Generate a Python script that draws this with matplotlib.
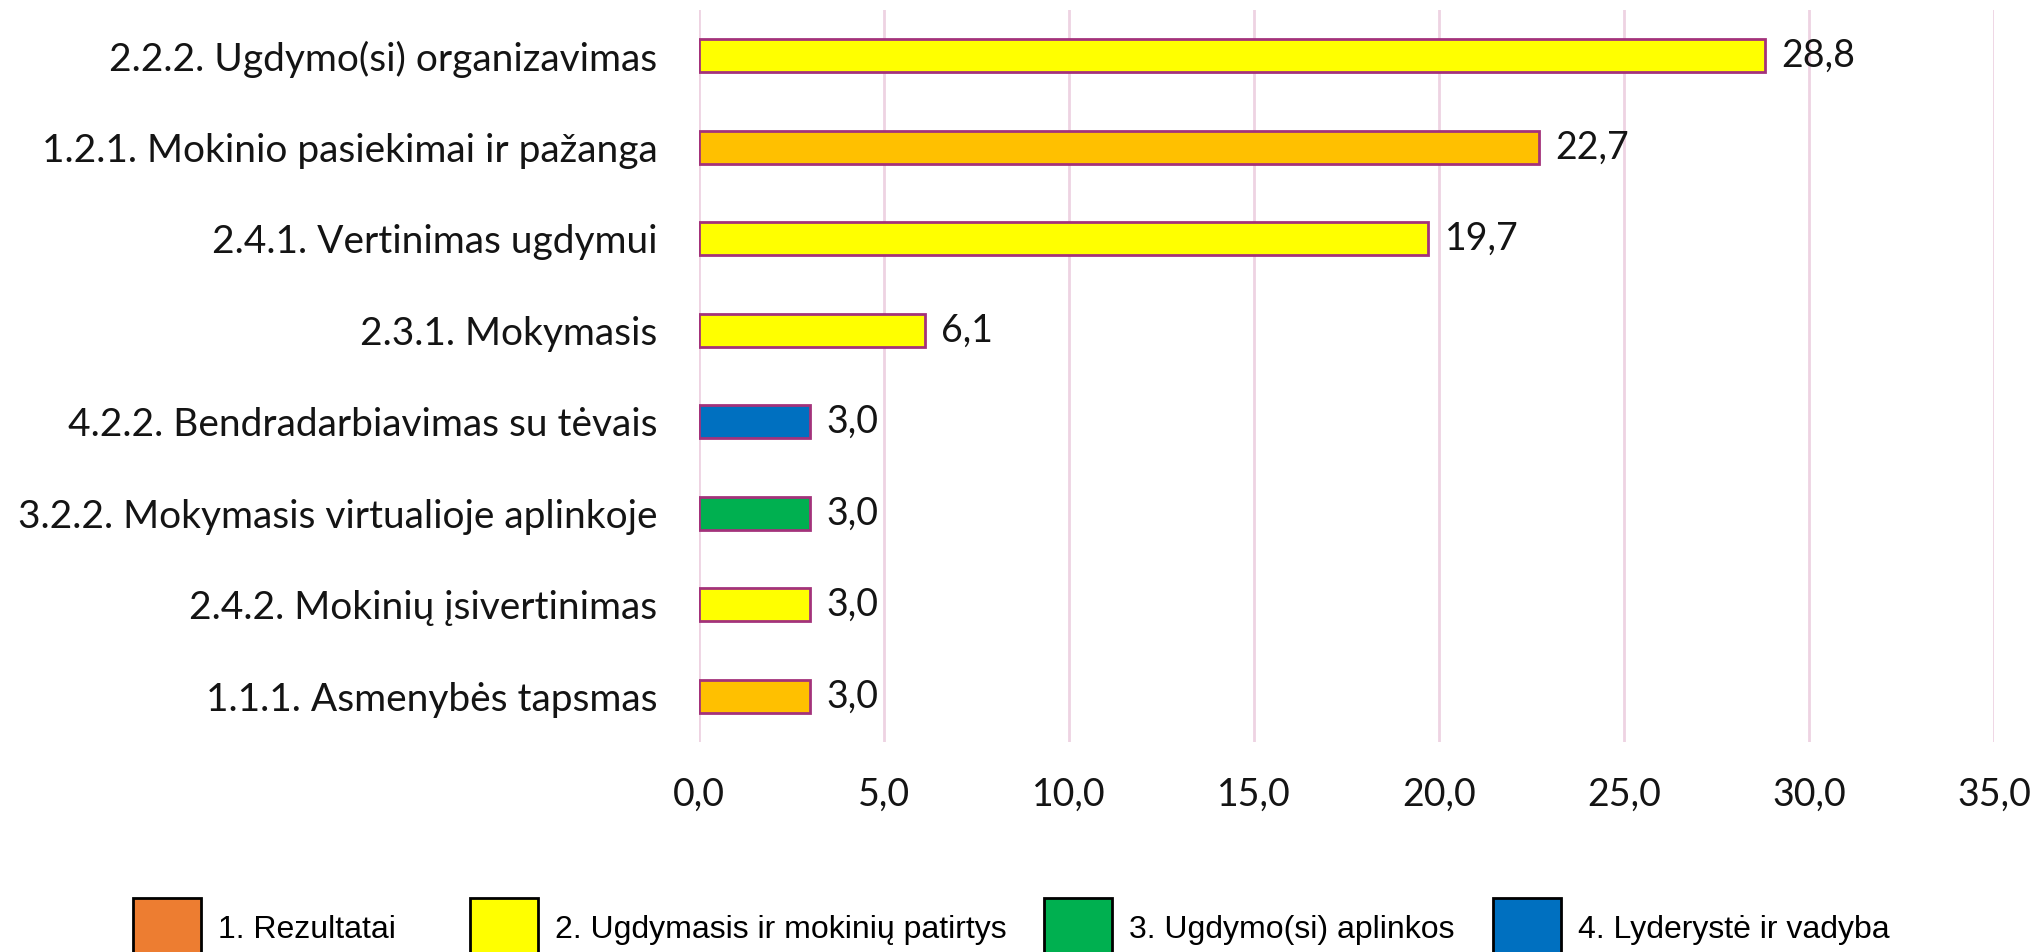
import matplotlib
matplotlib.use("Agg")
import matplotlib.pyplot as plt
from matplotlib.patches import Patch

# data, top to bottom as in the chart
categories = [
    "2.2.2. Ugdymo(si) organizavimas",
    "1.2.1. Mokinio pasiekimai ir pažanga",
    "2.4.1. Vertinimas ugdymui",
    "2.3.1. Mokymasis",
    "4.2.2. Bendradarbiavimas su tėvais",
    "3.2.2. Mokymasis virtualioje aplinkoje",
    "2.4.2. Mokinių įsivertinimas",
    "1.1.1. Asmenybės tapsmas",
]
values = [28.8, 22.7, 19.7, 6.1, 3.0, 3.0, 3.0, 3.0]
bar_colors = ["#FFFF00", "#FFC000", "#FFFF00", "#FFFF00",
              "#0070C0", "#00B050", "#FFFF00", "#FFC000"]
legend_labels = ["1. Rezultatai", "2. Ugdymasis ir mokinių patirtys",
                 "3. Ugdymo(si) aplinkos", "4. Lyderystė ir vadyba"]
legend_colors = ["#ED7D31", "#FFFF00", "#00B050", "#0070C0"]
xticks = [0, 5, 10, 15, 20, 25, 30, 35]

main_font = "Lato"
fs = 28
txt_color = "#141414"

fig = plt.figure(figsize=(20.41, 9.52), dpi=100)
ax = fig.add_axes([0.3425, 0.2206, 0.6345, 0.7689])

ypos = list(range(len(categories)))
ax.barh(ypos, values, height=0.36, color=bar_colors,
        edgecolor="#A3327B", linewidth=2, zorder=3)
for y, v in zip(ypos, values):
    ax.text(v + 0.45, y, ("%.1f" % v).replace(".", ","), va="center", ha="left",
            fontsize=fs - 1, family=main_font, color=txt_color)

ax.set_ylim(len(categories) - 0.5, -0.5)
ax.set_xlim(0, 35)
ax.set_yticks(ypos)
ax.set_yticklabels(categories, fontsize=fs, family=main_font, color=txt_color)
ax.set_xticks(xticks)
ax.set_xticklabels([("%.1f" % t).replace(".", ",") for t in xticks], fontsize=fs - 1,
                   family=main_font, color=txt_color)
ax.tick_params(axis="both", length=0)
ax.tick_params(axis="y", pad=30)
ax.tick_params(axis="x", pad=25)
ax.grid(axis="x", color="#EED3E2", linewidth=2, zorder=0)
for s in ax.spines.values():
    s.set_visible(False)

# legend entries sit at uneven spacing in the original, so one small legend each
legend_x = [0.0574, 0.2225, 0.5037, 0.7237]
for lx, c, lab in zip(legend_x, legend_colors, legend_labels):
    leg = fig.legend([Patch(facecolor=c, edgecolor="black", linewidth=2)], [lab],
                     loc="lower left", bbox_to_anchor=(lx, -0.024), borderpad=0,
                     frameon=False, handlelength=2.13, handleheight=2.57,
                     handletextpad=0.53,
                     prop={"family": "Liberation Sans", "size": 23})

fig.savefig("out.png", dpi=100)
